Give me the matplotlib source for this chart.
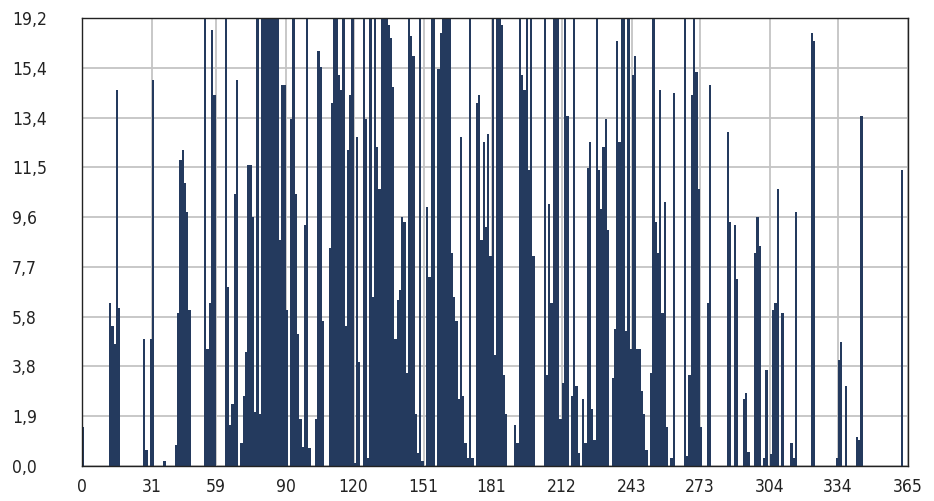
import numpy as np
import matplotlib
matplotlib.use("Agg")
import matplotlib.pyplot as plt

# daily values, one list per month (top of axis is 17.28, taller bars are clipped)
jan = [1.5, 0, 0, 0, 0, 0, 0, 0, 0, 0, 0, 0, 6.3, 5.4, 4.7, 14.5, 6.1,
       0, 0, 0, 0, 0, 0, 0, 0, 0, 0, 4.9, 0.6, 0, 4.9]
feb = [14.9, 0, 0, 0, 0, 0.2, 0, 0, 0, 0, 0.8, 5.9, 11.8, 12.2, 10.9, 9.8, 6.0,
       0, 0, 0, 0, 0, 0, 19.2, 4.5, 6.3, 16.8, 14.3]
mar = [0, 0, 0, 0, 19.2, 6.9, 1.6, 2.4, 10.5, 14.9, 0, 0.9, 2.7, 4.4, 11.6, 11.6,
       9.6, 2.1, 19.2, 2.0, 19.2, 19.2, 19.2, 19.2, 19.2, 19.2, 19.2, 19.2, 8.7, 14.7, 14.7]
apr = [6.0, 0, 13.4, 19.2, 10.5, 5.1, 1.8, 0.75, 9.3, 19.2, 0.7, 0, 0, 1.8, 16.0,
       15.4, 5.6, 0, 0, 8.4, 14.0, 19.2, 19.2, 15.1, 14.5, 19.2, 5.4, 12.2, 14.3, 19.2]
may = [0.1, 12.7, 4.0, 0, 19.2, 13.4, 0.3, 19.2, 6.5, 19.2, 12.3, 10.7, 19.2, 19.2,
       19.2, 17.0, 16.5, 14.6, 4.9, 6.4, 6.8, 9.6, 9.4, 3.6, 19.2, 16.6, 15.8, 2.0,
       0.5, 19.2, 0.2]
jun = [0, 10.0, 7.3, 19.2, 19.2, 0, 15.3, 16.7, 19.2, 19.2, 19.2, 19.2, 8.2, 6.5,
       5.6, 2.6, 12.7, 2.7, 0.9, 0.3, 19.2, 0.3, 0, 14.0, 14.3, 8.7, 12.5, 9.2, 12.8, 8.1]
jul = [19.2, 4.3, 19.2, 19.2, 17.0, 3.5, 2.0, 0, 0, 0, 1.6, 0.9, 19.2, 15.1, 14.5,
       19.2, 11.4, 19.2, 8.1, 0, 0, 0, 0, 19.2, 3.5, 10.1, 6.3, 19.2, 19.2, 19.2, 1.8]
aug = [3.2, 19.2, 13.5, 0, 2.7, 19.2, 3.1, 0.5, 0, 2.6, 0.9, 11.5, 12.5, 2.2, 1.0,
       19.2, 11.4, 9.9, 12.3, 13.4, 9.1, 0, 3.4, 5.3, 16.4, 12.5, 19.2, 19.2, 5.2, 19.2, 4.5]
sep = [15.1, 15.8, 4.5, 4.5, 2.9, 2.0, 0.6, 0, 3.6, 19.2, 9.4, 8.2, 14.5, 5.9, 10.2,
       1.5, 0, 0.3, 14.4, 0, 0, 0, 0, 19.2, 0.4, 3.5, 14.3, 19.2, 15.2, 10.7]
oct_ = [1.5, 0, 0, 6.3, 14.7, 0, 0, 0, 0, 0, 0, 0, 12.9, 9.4, 0, 9.3, 7.2, 0, 0,
        2.6, 2.8, 0.55, 0, 0, 8.2, 9.6, 8.5, 0, 0.3, 3.7, 0]
nov = [0.45, 6.0, 6.3, 10.7, 0, 5.9, 0, 0, 0, 0.9, 0.3, 9.8, 0, 0, 0, 0, 0, 0,
       16.7, 16.4, 0, 0, 0, 0, 0, 0, 0, 0, 0, 0.3]
dec = [4.1, 4.8, 0, 3.1, 0, 0, 0, 0, 1.1, 1.0, 13.5, 0, 0, 0, 0, 0, 0, 0, 0, 0,
       0, 0, 0, 0, 0, 0, 0, 0, 11.4, 0, 0]

month_starts = [0, 31, 59, 90, 120, 151, 181, 212, 243, 273, 304, 334, 365]
y_ticks = [0, 1.92, 3.84, 5.76, 7.68, 9.6, 11.52, 13.44, 15.36, 17.28]
y_labels = ["0,0", "1,9", "3,8", "5,8", "7,7", "9,6", "11,5", "13,4", "15,4", "19,2"]

values = np.array(jan + feb + mar + apr + may + jun + jul + aug + sep + oct_ + nov + dec)
days = np.arange(len(values)) + 0.5

plt.rcParams['font.family'] = ['DejaVu Sans']
plt.rcParams['font.stretch'] = 'condensed'

fig = plt.figure(figsize=(9.34, 5.01), dpi=100)
ax = fig.add_axes([82 / 934, 1 - 466 / 501, (908 - 82) / 934, (466 - 18) / 501])

ax.bar(days, values, width=1.0, color='#243a5e', linewidth=0, zorder=2)

ax.set_xlim(0, 365)
ax.set_ylim(0, y_ticks[-1])
ax.set_xticks(month_starts)
ax.set_xticklabels([str(m) for m in month_starts])
ax.set_yticks(y_ticks)
ax.set_yticklabels(y_labels)
ax.grid(True, color='#c4c4c4', linewidth=1.3, zorder=0)
ax.set_axisbelow(True)
ax.tick_params(length=0, labelsize=12.5, colors='#222222')
ax.tick_params(axis='x', pad=9)
# y labels are left aligned near the figure edge
ax.tick_params(axis='y', pad=70 * 72 / 100)
for lab in ax.get_yticklabels():
    lab.set_horizontalalignment('left')
for s in ax.spines.values():
    s.set_color('#222222')
    s.set_linewidth(1.0)
    s.set_zorder(3)

fig.savefig('out.png', dpi=100)
